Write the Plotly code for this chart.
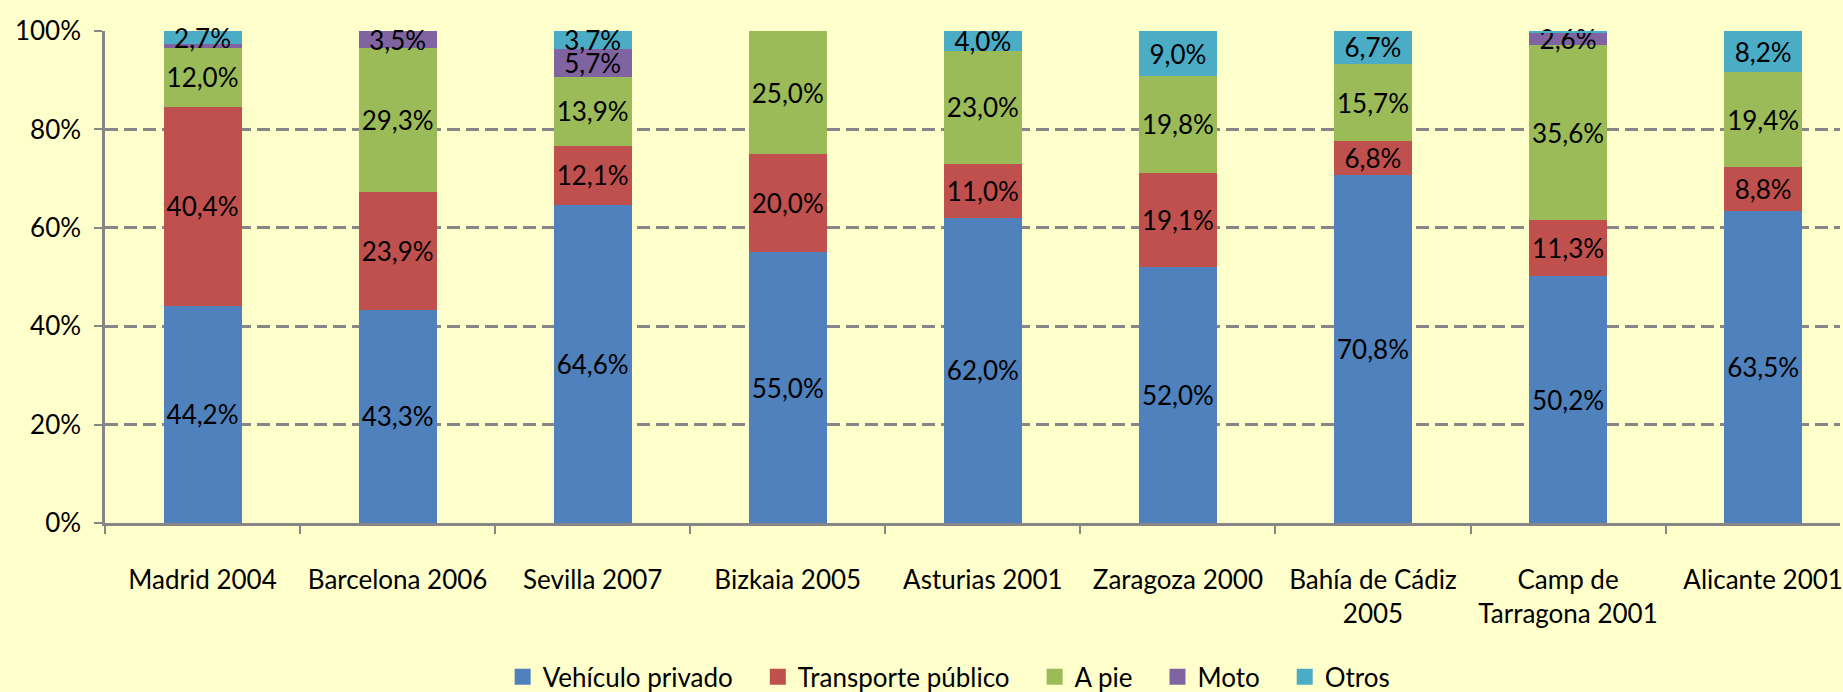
import plotly.graph_objects as go

categories = ["Madrid 2004", "Barcelona 2006", "Sevilla 2007", "Bizkaia 2005", "Asturias 2001",
              "Zaragoza 2000", "Bahía de Cádiz<br>2005", "Camp de<br>Tarragona 2001", "Alicante 2001"]
series_names = ["Vehículo privado", "Transporte público", "A pie", "Moto", "Otros"]
vehiculo_privado = [44.2, 43.3, 64.6, 55.0, 62.0, 52.0, 70.8, 50.2, 63.5]
transporte_publico = [40.4, 23.9, 12.1, 20.0, 11.0, 19.1, 6.8, 11.3, 8.8]
a_pie = [12.0, 29.3, 13.9, 25.0, 23.0, 19.8, 15.7, 35.6, 19.4]
moto = [0.7, 3.5, 5.7, 0.0, 0.0, 0.0, 0.0, 2.6, 0.0]
otros = [2.7, 0.0, 3.7, 0.0, 4.0, 9.0, 6.7, 0.3, 8.2]
# labels shown in the chart (empty where no label is drawn)
show_label = {
    "Moto": [False, True, True, False, False, False, False, True, False],
    "Otros": [True, False, True, False, True, True, True, False, True],
}
colors = ["#4F81BD", "#C0504D", "#9BBB59", "#8064A2", "#4BACC6"]
y_ticks = [0, 20, 40, 60, 80, 100]

FONT = "Lato"
FS = 26

def fmt(v):
    return ("%.1f%%" % v).replace(".", ",")

fig = go.Figure()
all_series = [vehiculo_privado, transporte_publico, a_pie, moto, otros]
for name, vals, col in zip(series_names, all_series, colors):
    flags = show_label.get(name, [v > 0 for v in vals])
    texts = [fmt(v) if f and v > 0 else "" for v, f in zip(vals, flags)]
    fig.add_trace(go.Bar(
        name=name, x=categories, y=vals, marker=dict(color=col, line=dict(width=0)),
        text=texts, textposition="inside", insidetextanchor="middle", textangle=0,
        insidetextfont=dict(family=FONT, size=FS, color="black"),
        constraintext="none", cliponaxis=False, width=0.4, showlegend=False,
    ))
# legend entries with larger square swatches (trailing non-breaking spaces widen item spacing)
n_series = len(series_names)
for i, (name, col) in enumerate(zip(series_names, colors)):
    pad = "\u00a0\u00a0\u00a0" if i < n_series - 1 else ""
    fig.add_trace(go.Scatter(
        name=name + pad, x=[None], y=[None], mode="markers",
        marker=dict(symbol="square", size=18, color=col), showlegend=True,
    ))

fig.update_layout(
    barmode="stack",
    width=1843, height=692,
    paper_bgcolor="#FFFFCC", plot_bgcolor="#FFFFCC",
    margin=dict(l=105, r=0, t=31, b=169),
    font=dict(family=FONT, size=FS, color="black"),
    uniformtext=dict(minsize=FS, mode="show"),
    showlegend=True,
    legend=dict(orientation="h", xref="container", yref="container", x=0.515, xanchor="center",
                y=0.022, yanchor="middle", font=dict(family=FONT, size=FS), bgcolor="rgba(0,0,0,0)",
                traceorder="normal", itemsizing="trace", tracegroupgap=0),
    xaxis=dict(range=[-0.5, 8.394], showgrid=False, showline=True, linecolor="#868686", linewidth=2.5,
               ticks="outside", tickson="boundaries", ticklen=8, tickwidth=1.5, tickcolor="#868686",
               ticklabelstandoff=32, tickfont=dict(family=FONT, size=FS)),
    yaxis=dict(range=[0, 100], tickvals=y_ticks, ticktext=[f"{v}%" for v in y_ticks],
               showgrid=True, gridcolor="#868686", gridwidth=2.5, griddash="13px,6px",
               showline=True, linecolor="#868686", linewidth=2.5, zeroline=False,
               ticks="outside", ticklen=8, tickwidth=2, tickcolor="#868686",
               ticklabelstandoff=8, tickfont=dict(family=FONT, size=FS)),
)

fig.write_html("out.html", config={"displayModeBar": False})
with open("out.html", "r", encoding="utf-8") as f:
    html = f.read()
html = html.replace("<head>", "<head><style>html,body{margin:0;padding:0;overflow:hidden;background:#FFFFCC;}</style>", 1)
with open("out.html", "w", encoding="utf-8") as f:
    f.write(html)
